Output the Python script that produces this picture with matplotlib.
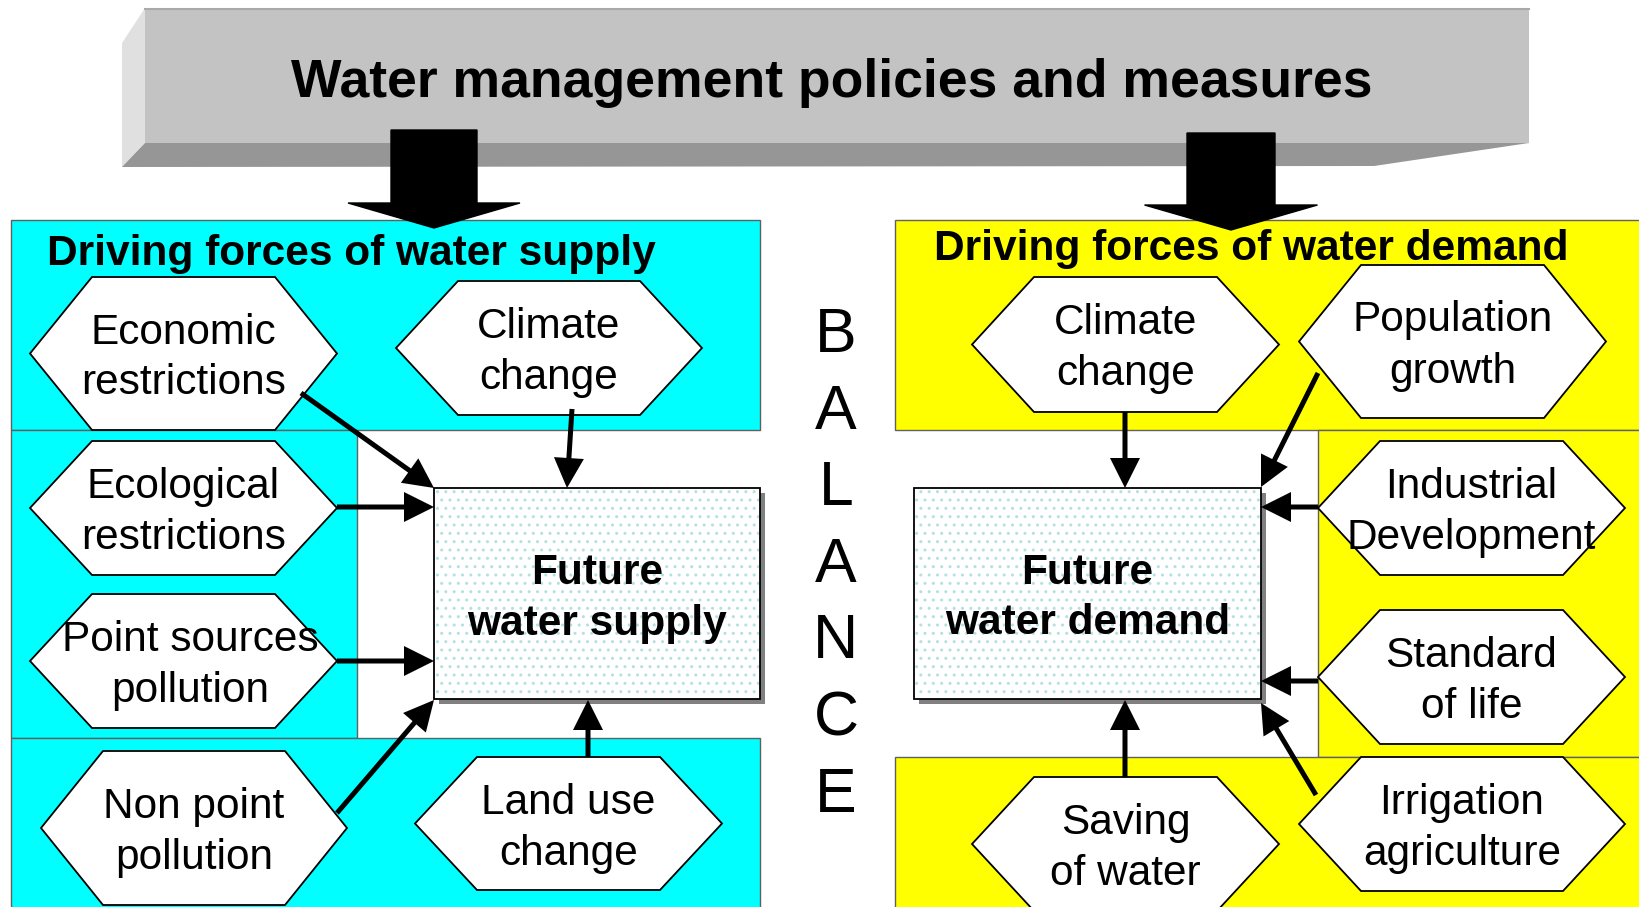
import numpy as np
import matplotlib.pyplot as plt
from matplotlib.patches import Polygon, Rectangle

plt.rcParams['font.family'] = ['Liberation Sans', 'DejaVu Sans']
plt.rcParams['hatch.linewidth'] = 1.0

# ---- text content ----
TITLE = "Water management policies and measures"
SUPPLY_HEAD = "Driving forces of water supply"
DEMAND_HEAD = "Driving forces of water demand"
SUPPLY_BOX = ["Future", "water supply"]
DEMAND_BOX = ["Future", "water demand"]
MIDDLE_WORD = "BALANCE"

supply_labels = [
    ["Economic", "restrictions"],
    ["Climate", "change"],
    ["Ecological", "restrictions"],
    ["Point sources", "pollution"],
    ["Non point", "pollution"],
    ["Land use", "change"],
]
demand_labels = [
    ["Climate", "change"],
    ["Population", "growth"],
    ["Industrial", "Development"],
    ["Standard", "of life"],
    ["Irrigation", "agriculture"],
    ["Saving", "of water"],
]

# ---- layout (pixel units, y down) ----
W, H = 1639, 907
# hexagon centre x, centre y, width, height, text x shift
supply_hex = [(183.5, 353.5, 307, 153, 0), (549, 348, 306, 134, 0), (183.5, 508, 307, 134, 0),
              (183.5, 661, 307, 134, 7), (194, 828, 306, 154, 0), (568.5, 823.5, 307, 133, 0)]
demand_hex = [(1125.5, 344.5, 307, 135, 0), (1452.5, 341.5, 307, 153, 0), (1471.5, 508, 307, 134, 0),
              (1471.5, 677, 307, 134, 0), (1462, 824, 326, 134, 0), (1125.5, 844, 307, 134, 0)]
# arrows from driving force to the future box
supply_arrows = [(301, 393, 434, 488), (572, 409, 567, 488), (337, 507, 434, 507),
                 (337, 661, 434, 661), (337, 813, 434, 700), (588, 757, 588, 700)]
demand_arrows = [(1125, 412, 1125, 488), (1318, 373, 1261, 487), (1318, 507, 1261, 507),
                 (1318, 681, 1261, 681), (1316, 795, 1261, 703), (1125, 777, 1125, 700)]

CYAN = "#00ffff"
YELLOW = "#ffff00"
EDGE = "#606060"


def hexagon(ax, cx, cy, w, h, inset=62):
    pts = [(cx - w / 2, cy), (cx - w / 2 + inset, cy - h / 2), (cx + w / 2 - inset, cy - h / 2),
           (cx + w / 2, cy), (cx + w / 2 - inset, cy + h / 2), (cx - w / 2 + inset, cy + h / 2)]
    ax.add_patch(Polygon(pts, closed=True, fc="white", ec="black", lw=1.3, zorder=4))


def two_lines(ax, cx, cy, lines, size=30.5, weight="normal"):
    ax.text(cx, cy - 10, lines[0], ha="center", va="baseline", fontsize=size,
            fontweight=weight, zorder=6)
    ax.text(cx, cy + 41, lines[1], ha="center", va="baseline", fontsize=size,
            fontweight=weight, zorder=6)


def future_box(ax, x0, y0, x1, y1, lines):
    ax.add_patch(Rectangle((x0 + 5, y0 + 5), x1 - x0, y1 - y0, fc="#808080", ec="none", zorder=2))
    ax.add_patch(Rectangle((x0, y0), x1 - x0, y1 - y0, fc="white", ec="#b4e0e4", lw=0,
                           hatch="..", zorder=2.5))
    ax.add_patch(Rectangle((x0, y0), x1 - x0, y1 - y0, fill=False, ec="black", lw=1.3, zorder=3))
    two_lines(ax, (x0 + x1) / 2, (y0 + y1) / 2, lines, weight="bold")


fig = plt.figure(figsize=(W / 100, H / 100), dpi=100)
ax = fig.add_axes([0, 0, 1, 1])
ax.set_xlim(0, W)
ax.set_ylim(H, 0)
ax.axis("off")

# ---- grey banner ----
ax.add_patch(Polygon([(122, 43), (145, 8), (145, 143), (122, 167)], fc="#e0e0e0", ec="none", zorder=1))
ax.add_patch(Polygon([(122, 167), (145, 143), (1529, 143), (1374, 166)], fc="#969696", ec="none", zorder=1))
ax.add_patch(Rectangle((145, 8), 1529 - 145, 135, fc="#c3c3c3", ec="none", zorder=1))
ax.plot([145, 1529], [8.5, 8.5], color="#a9a9a9", lw=1.5, zorder=1.1)
ax.text(832, 97, TITLE, ha="center", va="baseline", fontsize=38.5, fontweight="bold", zorder=2)

# ---- coloured panels ----
ax.add_patch(Rectangle((11, 220), 749, 210, fc=CYAN, ec=EDGE, lw=1, zorder=1))
ax.add_patch(Rectangle((11, 430), 346, 308, fc=CYAN, ec=EDGE, lw=1, zorder=1))
ax.add_patch(Rectangle((11, 738), 749, 190, fc=CYAN, ec=EDGE, lw=1, zorder=1))
ax.add_patch(Rectangle((895, 220), 760, 210, fc=YELLOW, ec=EDGE, lw=1, zorder=1))
ax.add_patch(Rectangle((1318, 430), 340, 327, fc=YELLOW, ec=EDGE, lw=1, zorder=1))
ax.add_patch(Rectangle((895, 757), 760, 190, fc=YELLOW, ec=EDGE, lw=1, zorder=1))

ax.text(47, 265, SUPPLY_HEAD, ha="left", va="baseline", fontsize=30.6, fontweight="bold", zorder=6)
ax.text(934, 260, DEMAND_HEAD, ha="left", va="baseline", fontsize=30.6, fontweight="bold", zorder=6)

# ---- block arrows from the banner ----
ax.arrow(434, 130, 0, 98, width=86, head_width=172, head_length=25,
         length_includes_head=True, fc="black", ec="black", zorder=5)
ax.arrow(1231, 133, 0, 97, width=88, head_width=173, head_length=25,
         length_includes_head=True, fc="black", ec="black", zorder=5)

# ---- future boxes ----
future_box(ax, 434, 488, 760, 699, SUPPLY_BOX)
future_box(ax, 914, 488, 1261, 699, DEMAND_BOX)

# ---- hexagons ----
for (cx, cy, w, h, dx), lab in zip(supply_hex + demand_hex, supply_labels + demand_labels):
    hexagon(ax, cx, cy, w, h)
    two_lines(ax, cx + dx, cy, lab)

# ---- thin arrows ----
for x0, y0, x1, y1 in supply_arrows + demand_arrows:
    ax.arrow(x0, y0, x1 - x0, y1 - y0, width=5, head_width=30, head_length=30,
             length_includes_head=True, fc="black", ec="black", lw=0, zorder=5)

# ---- BALANCE ----
for i, ch in enumerate(MIDDLE_WORD):
    ax.text(836, 352 + i * 76.6, ch, ha="center", va="baseline", fontsize=45, zorder=6)

fig.savefig("out.png", dpi=100)
